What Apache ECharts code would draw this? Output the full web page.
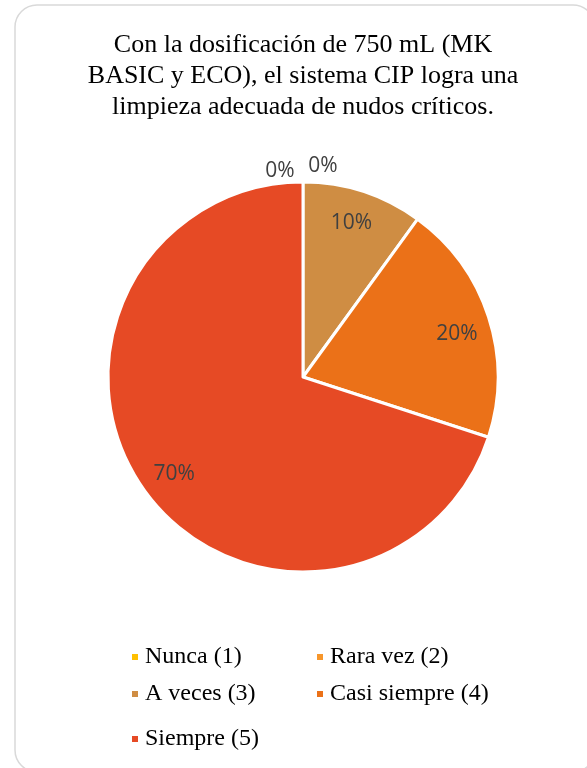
<!DOCTYPE html>
<html><head><meta charset="utf-8">
<script src="https://cdn.jsdelivr.net/npm/echarts@6/dist/echarts.min.js"></script>
<style>html,body{margin:0;padding:0;background:#fff}#c{width:587px;height:768px}</style>
</head><body><div id="c"></div>
<script>
const categories = ['Nunca (1)', 'Rara vez (2)', 'A veces (3)', 'Casi siempre (4)', 'Siempre (5)'];
const values = [0, 0, 10, 20, 70];
const colors = ['#FFC000', '#F7962B', '#CF8D43', '#EB7118', '#E64A25'];
const titleText = 'Con la dosificación de 750 mL (MK\nBASIC y ECO), el sistema CIP logra una\nlimpieza adecuada de nudos críticos.';

const labelOffsets = [[-23, -43], [20, -48], [-2, 1], [-1, 7], [3, 1]];
const chart = echarts.init(document.getElementById('c'));
const pieData = categories.map((n, i) => ({name: n, value: values[i], itemStyle: {color: colors[i]}}));
const labelData = categories.map((n, i) => ({
  name: n, value: values[i],
  itemStyle: {color: 'transparent', borderWidth: 0},
  label: {offset: labelOffsets[i]}
}));
const legendPos = [[130, 645], [315, 645], [130, 682], [315, 682], [130, 727]];
const serif = '"Liberation Serif", "DejaVu Serif", serif';
chart.setOption({
  animation: false,
  backgroundColor: '#fff',
  title: {
    text: titleText, left: 303, top: 30, textAlign: 'center', padding: 0,
    textStyle: {fontFamily: serif, fontSize: 26, fontWeight: 'normal', color: '#000', lineHeight: 31}
  },
  legend: categories.map((n, i) => ({
    data: [n], left: legendPos[i][0], top: legendPos[i][1], icon: 'rect',
    itemWidth: 8, itemHeight: 8, itemGap: 0, padding: 0,
    textStyle: {fontFamily: serif, fontSize: 24, color: '#000', padding: [0, 0, 0, 1]},
    selectedMode: false
  })),
  graphic: [{
    type: 'rect', shape: {x: 15, y: 5, width: 580, height: 767, r: 22},
    style: {fill: 'none', stroke: '#d9d9d9', lineWidth: 1.5}, silent: true, z: -1
  }],
  series: [{
    type: 'pie', center: [303, 377], radius: 195, startAngle: 90, clockwise: true,
    data: pieData, label: {show: false}, labelLine: {show: false},
    itemStyle: {borderColor: '#fff', borderWidth: 3}, silent: true
  }, {
    type: 'pie', center: [303, 377], radius: [125, 195], startAngle: 90, clockwise: true,
    data: labelData, silent: true, z: 5,
    label: {show: true, position: 'inside', formatter: '{d}%', fontFamily: '"Open Sans", sans-serif', fontSize: 21, color: '#404040'},
    labelLine: {show: false}
  }]
});
</script></body></html>
